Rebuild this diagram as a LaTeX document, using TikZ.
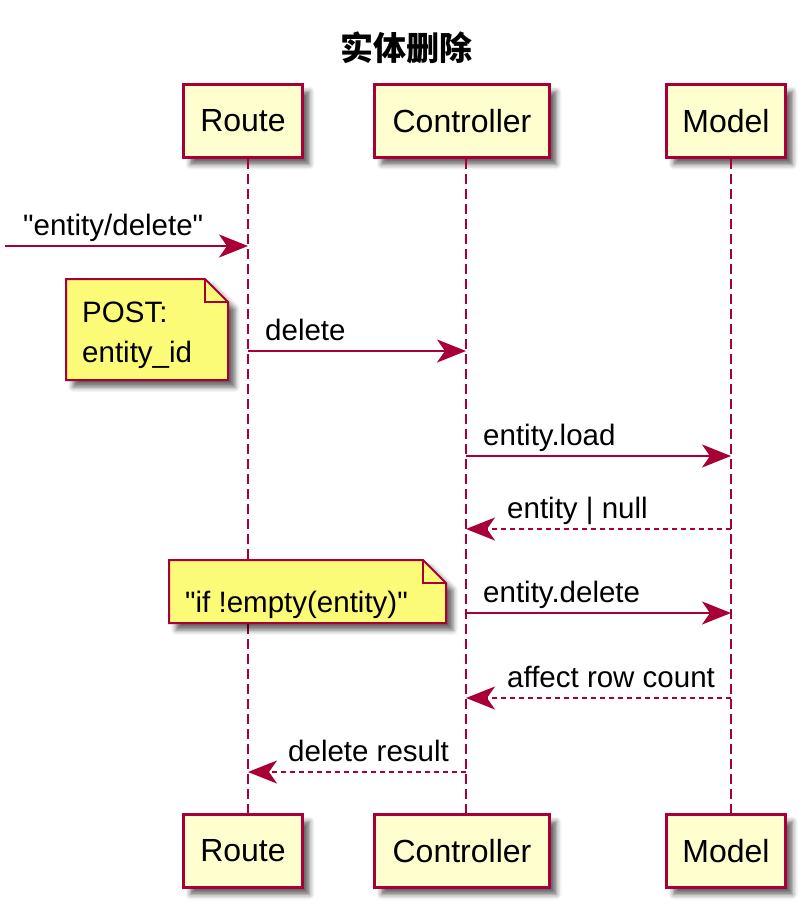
\documentclass[tikz,border=0pt]{standalone}
\usepackage{fontspec}
\setmainfont{Liberation Sans}[Ligatures=TeXOff]
\newfontfamily\cjk{Noto Sans CJK SC}
\usetikzlibrary{arrows.meta,shadows.blur}
\definecolor{umlred}{HTML}{A80036}
\definecolor{partfill}{HTML}{FEFECE}
\definecolor{notefill}{HTML}{FBFB77}
\tikzset{
  >={Stealth[length=29pt,width=23pt,inset=8pt]},
  boxshadow/.style={blur shadow={shadow xshift=7pt,shadow yshift=-7pt,shadow blur radius=5pt,shadow opacity=60}},
  participant/.style={draw=umlred, fill=partfill, line width=3pt, minimum height=73pt,
    inner sep=0pt, font=\fontsize{32}{38}\selectfont, boxshadow},
  lifeline/.style={draw=umlred, line width=2pt, dash pattern=on 10pt off 5pt},
  msg/.style={umlred, line width=2pt, ->},
  reply/.style={msg, dash pattern=on 5pt off 4pt},
  msglabel/.style={anchor=base west, inner sep=0pt, font=\fontsize{29.5}{40}\selectfont},
  notebox/.style={draw=umlred, fill=notefill, line width=2pt, line join=miter, boxshadow},
  notefold/.style={draw=umlred, line width=2pt, line join=miter},
}
\begin{document}
\begin{tikzpicture}[x=1pt, y=-1pt]
    \useasboundingbox (0,0) rectangle (811,913);

    % Title
    \node[font=\cjk\bfseries\fontsize{33}{40}\selectfont] (title) at (406,48) {实体删除};

    % Participants (top and bottom) and lifelines
    \foreach \id/\lbl/\cx/\lx/\w in {route/Route/243/248/119, ctrl/Controller/462/466/175, model/Model/726/731/119} {
        \node[participant, minimum width=\w pt] (\id top) at (\cx,121) {\lbl};
        \node[participant, minimum width=\w pt] (\id bot) at (\cx,851) {\lbl};
        \coordinate (\id) at (\lx,0);
        \path[lifeline] (\id top.south -| \id) -- (\id bot.north -| \id);
    }

    % Incoming request
    \coordinate (entry) at (5,246);
    \draw[msg] (entry) -- (route |- entry);
    \node[msglabel] (lblentry) at (23,235.5) {"entity/delete"};

    % Notes
    \path[notebox] (66,279) -- (205,279) -- (228,302) -- (228,380) -- (66,380) -- cycle;
    \draw[notefold] (205,279) -- (205,302) -- (228,302);
    \node[msglabel, anchor=north west, align=left] (postnote) at (82,301.5) {POST:\\entity\_id};

    \path[notebox] (169,560) -- (423,560) -- (446,583) -- (446,623) -- (169,623) -- cycle;
    \draw[notefold] (423,560) -- (423,583) -- (446,583);
    \node[msglabel] (ifnote) at (185,612) {"if !empty(entity)"};

    % Messages between lifelines
    \foreach \y/\a/\b/\kind/\lx/\txt in {
        351/route/ctrl/msg/265/delete,
        456/ctrl/model/msg/483/entity.load,
        529/model/ctrl/reply/507/{entity | null},
        613/ctrl/model/msg/483/entity.delete,
        698/model/ctrl/reply/507/affect row count,
        772/ctrl/route/reply/288/delete result} {
        \draw[\kind] (\a |- 0,\y) -- (\b |- 0,\y);
        \node[msglabel] (lbl\y) at (\lx,\y-10.5) {\txt};
    }
\end{tikzpicture}
\end{document}
